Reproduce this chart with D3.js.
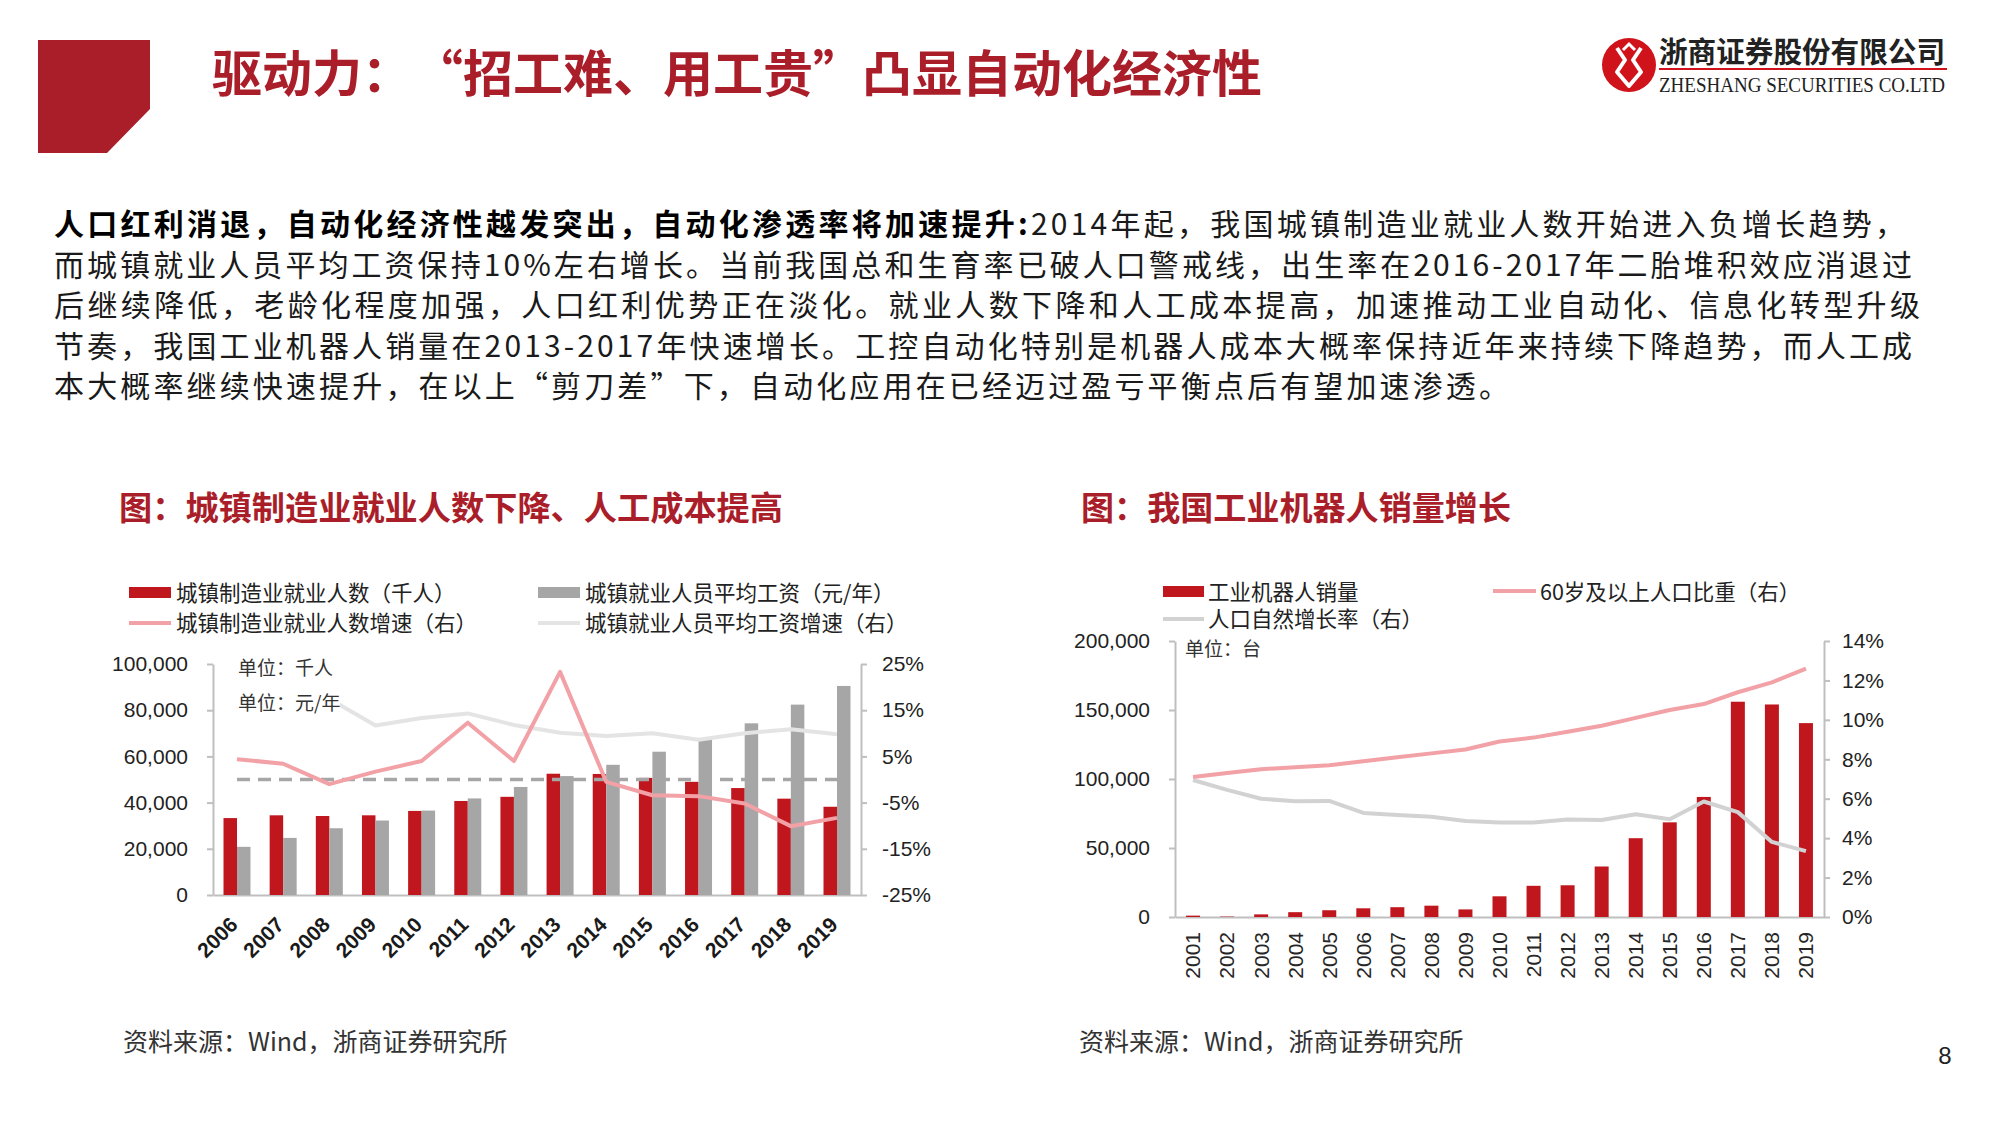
<!DOCTYPE html>
<html>
<head>
<meta charset="utf-8">
<script src="https://cdn.jsdelivr.net/npm/d3@7"></script>
<style>
  body { margin: 0; background: #fff; }
  svg { display: block; }
  text { font-family: "Noto Sans CJK SC", "Noto Sans", sans-serif; }
  .num, .num text { font-family: "Liberation Sans", Arial, sans-serif; }
</style>
</head>
<body>
<div id="page"></div>
<script>
// ---- chart 1: manufacturing employment vs wages ----
var years1 = ["2006", "2007", "2008", "2009", "2010", "2011", "2012", "2013", "2014", "2015", "2016", "2017", "2018", "2019"];
var mfgEmployees = [33300, 34500, 34200, 34500, 36400, 40700, 42500, 52500, 52400, 50700, 49000, 46300, 41700, 38200];
var avgWage = [20856, 24721, 28898, 32244, 36539, 41799, 46769, 51483, 56360, 62029, 67569, 74318, 82413, 90501];
var mfgGrowth = [4.4, 3.4, -1.0, 1.7, 4.0, 12.3, 4.0, 23.3, -0.5, -3.4, -3.6, -5.2, -10.1, -8.3];
var wageGrowth = [14.5, 18.3, 17.5, 11.7, 13.3, 14.3, 11.8, 10.1, 9.4, 10.0, 8.6, 10.0, 10.9, 9.8];
var leftTicks1 = [0, 20000, 40000, 60000, 80000, 100000];
var rightTicks1 = [-25, -15, -5, 5, 15, 25];

// ---- chart 2: industrial robot sales ----
var years2 = ["2001", "2002", "2003", "2004", "2005", "2006", "2007", "2008", "2009", "2010", "2011", "2012", "2013", "2014", "2015", "2016", "2017", "2018", "2019"];
var robotSales = [1000, 300, 1900, 3500, 4900, 6300, 7100, 8200, 5500, 15000, 22600, 23000, 36600, 57100, 68600, 87000, 156000, 154000, 140500];
var agedShare = [7.1, 7.3, 7.5, 7.6, 7.7, 7.9, 8.1, 8.3, 8.5, 8.9, 9.1, 9.4, 9.7, 10.1, 10.5, 10.8, 11.4, 11.9, 12.6];
var naturalGrowth = [6.95, 6.45, 6.0, 5.87, 5.89, 5.28, 5.17, 5.08, 4.87, 4.79, 4.79, 4.95, 4.92, 5.21, 4.96, 5.86, 5.32, 3.81, 3.34];
var leftTicks2 = [0, 50000, 100000, 150000, 200000];
var rightTicks2 = [0, 2, 4, 6, 8, 10, 12, 14];

// ---- texts ----
var titleParts = ["驱动力：", "“招工难、用工贵”", "凸显自动化经济性"];
var bodyLines = [
  ["人口红利消退，自动化经济性越发突出，自动化渗透率将加速提升:", "2014年起，我国城镇制造业就业人数开始进入负增长趋势，"],
  ["", "而城镇就业人员平均工资保持10%左右增长。当前我国总和生育率已破人口警戒线，出生率在2016-2017年二胎堆积效应消退过"],
  ["", "后继续降低，老龄化程度加强，人口红利优势正在淡化。就业人数下降和人工成本提高，加速推动工业自动化、信息化转型升级"],
  ["", "节奏，我国工业机器人销量在2013-2017年快速增长。工控自动化特别是机器人成本大概率保持近年来持续下降趋势，而人工成"],
  ["", "本大概率继续快速提升，在以上“剪刀差”下，自动化应用在已经迈过盈亏平衡点后有望加速渗透。"]
];
var bodyWidths = [1851, 1858, 1866, 1858, 1455];
var legend1 = ["城镇制造业就业人数（千人）", "城镇就业人员平均工资（元/年）", "城镇制造业就业人数增速（右）", "城镇就业人员平均工资增速（右）"];
var legend2 = ["工业机器人销量", "60岁及以上人口比重（右）", "人口自然增长率（右）"];

var RED = "#aa1e2a", BAR_RED = "#c0171f", BAR_GRAY = "#a6a6a6", PINK = "#f2a1a6",
    LIGHT1 = "#e4e4e4", LIGHT2 = "#d2d2d2", AXIS = "#bfbfbf", INK = "#222";

var svg = d3.select("#page").append("svg")
    .attr("width", 2000)
    .attr("height", 1125);

// header block + title
svg.append("path")
    .attr("d", "M38,40 L150,40 L150,109 L107,153 L38,153 Z")
    .attr("fill", RED);

var titleText = svg.append("text")
    .attr("y", 92)
    .attr("font-size", 50).attr("font-weight", 700)
    .attr("fill", RED);
[212, 413, 862].forEach(function(x, i) {
    titleText.append("tspan").attr("x", x).text(titleParts[i]);
});

// logo
var logo = svg.append("g");
logo.append("circle").attr("cx", 1629).attr("cy", 65).attr("r", 27).attr("fill", "#d0121b");
logo.append("path")
    .attr("d", "M1617,48 L1625,60 L1617,72 L1629,86 L1641,72 L1633,60 L1641,48")
    .attr("fill", "none").attr("stroke", "#fff").attr("stroke-width", 4).attr("stroke-linejoin", "round");
logo.append("path")
    .attr("d", "M1623,50 L1629,44 L1635,50")
    .attr("fill", "none").attr("stroke", "#fff").attr("stroke-width", 3);
logo.append("text")
    .attr("x", 1659).attr("y", 63)
    .attr("font-size", 29).attr("font-weight", 700).attr("fill", "#222")
    .attr("textLength", 286).attr("lengthAdjust", "spacingAndGlyphs")
    .text("浙商证券股份有限公司");
logo.append("line")
    .attr("x1", 1659).attr("x2", 1947).attr("y1", 69).attr("y2", 69)
    .attr("stroke", "#d0121b").attr("stroke-width", 2);
logo.append("text")
    .attr("x", 1659).attr("y", 92)
    .style("font-family", "'Liberation Serif', serif")
    .attr("font-size", 22).attr("fill", "#222")
    .attr("textLength", 286).attr("lengthAdjust", "spacingAndGlyphs")
    .text("ZHESHANG SECURITIES CO.LTD");

// body paragraph
var lineY = [235, 275.5, 316, 356.5, 397];
bodyLines.forEach(function(parts, i) {
    var t = svg.append("text")
        .attr("x", 54).attr("y", lineY[i])
        .attr("font-size", 30).attr("fill", "#1a1a1a")
        .attr("textLength", bodyWidths[i]).attr("lengthAdjust", "spacing");
    if (parts[0]) t.append("tspan").attr("font-weight", 700).attr("fill", "#000").text(parts[0]);
    t.append("tspan").text(parts[1]);
});

// section titles
svg.append("text").attr("x", 119).attr("y", 520)
    .attr("font-size", 33).attr("font-weight", 700).attr("fill", RED)
    .attr("textLength", 664).attr("lengthAdjust", "spacingAndGlyphs")
    .text("图：城镇制造业就业人数下降、人工成本提高");
svg.append("text").attr("x", 1081).attr("y", 520)
    .attr("font-size", 33).attr("font-weight", 700).attr("fill", RED)
    .attr("textLength", 430).attr("lengthAdjust", "spacingAndGlyphs")
    .text("图：我国工业机器人销量增长");

function styleAxis(g) {
    g.classed("num", true);
    g.select(".domain").attr("stroke", AXIS).attr("stroke-width", 2);
    g.selectAll(".tick line").attr("stroke", AXIS).attr("stroke-width", 2);
    g.selectAll(".tick text").attr("fill", INK).attr("font-size", 21);
}

// ================= chart 1 =================
var c1 = svg.append("g");
var x1 = d3.scaleBand().domain(years1).range([213, 861]).paddingInner(0).paddingOuter(0.02);
var yL1 = d3.scaleLinear().domain([0, 100000]).range([895, 664]);
var yR1 = d3.scaleLinear().domain([-25, 25]).range([895, 664]);
var bw1 = 13.5;
var cx1 = function(d) { return x1(d) + x1.bandwidth() / 2; };

c1.append("g").attr("transform", "translate(213,0)")
    .call(d3.axisLeft(yL1).tickValues(leftTicks1).tickSize(6).tickSizeOuter(0).tickPadding(19).tickFormat(d3.format(",")))
    .call(styleAxis);
c1.append("g").attr("transform", "translate(861,0)")
    .call(d3.axisRight(yR1).tickValues(rightTicks1).tickSize(6).tickSizeOuter(0).tickPadding(15).tickFormat(function(d) { return d + "%"; }))
    .call(styleAxis);
c1.append("g").attr("transform", "translate(0,895)")
    .call(d3.axisBottom(x1).tickSize(0).tickSizeOuter(0).tickFormat(""))
    .call(styleAxis);

c1.selectAll("rect.emp").data(years1).enter().append("rect")
    .attr("x", function(d) { return cx1(d) - bw1; })
    .attr("width", bw1)
    .attr("y", function(d, i) { return yL1(mfgEmployees[i]); })
    .attr("height", function(d, i) { return yL1(0) - yL1(mfgEmployees[i]); })
    .attr("fill", BAR_RED);
c1.selectAll("rect.wage").data(years1).enter().append("rect")
    .attr("x", function(d) { return cx1(d); })
    .attr("width", bw1)
    .attr("y", function(d, i) { return yL1(avgWage[i]); })
    .attr("height", function(d, i) { return yL1(0) - yL1(avgWage[i]); })
    .attr("fill", BAR_GRAY);

c1.append("line")
    .attr("x1", cx1(years1[0])).attr("x2", cx1(years1[years1.length - 1]))
    .attr("y1", yR1(0)).attr("y2", yR1(0))
    .attr("stroke", BAR_GRAY).attr("stroke-width", 3.5).attr("stroke-dasharray", "13,8");

var line1 = d3.line().x(function(d) { return cx1(d[0]); }).y(function(d) { return yR1(d[1]); });
c1.append("path").datum(d3.zip(years1, wageGrowth)).attr("d", line1)
    .attr("fill", "none").attr("stroke", LIGHT1).attr("stroke-width", 4).attr("stroke-linejoin", "round");
c1.append("path").datum(d3.zip(years1, mfgGrowth)).attr("d", line1)
    .attr("fill", "none").attr("stroke", PINK).attr("stroke-width", 4).attr("stroke-linejoin", "round");

// unit notes
c1.append("rect").attr("x", 236).attr("y", 689).attr("width", 104).attr("height", 28).attr("fill", "#fff");
c1.append("text").attr("x", 238).attr("y", 675).attr("font-size", 19).attr("fill", "#333").text("单位：千人");
c1.append("text").attr("x", 238).attr("y", 710).attr("font-size", 19).attr("fill", "#333").text("单位：元/年");

c1.selectAll("text.xl").data(years1).enter().append("text")
    .attr("class", "num")
    .attr("transform", function(d) { return "translate(" + (cx1(d) + 2) + ",926) rotate(-45)"; })
    .attr("text-anchor", "end")
    .attr("font-size", 21).attr("font-weight", 700).attr("fill", "#1a1a1a")
    .text(function(d) { return d; });

// legend 1
var lg1 = c1.append("g");
lg1.append("rect").attr("x", 129).attr("y", 587).attr("width", 42).attr("height", 11).attr("fill", BAR_RED);
lg1.append("rect").attr("x", 538).attr("y", 587).attr("width", 42).attr("height", 11).attr("fill", BAR_GRAY);
lg1.append("line").attr("x1", 129).attr("x2", 171).attr("y1", 623).attr("y2", 623).attr("stroke", PINK).attr("stroke-width", 4);
lg1.append("line").attr("x1", 538).attr("x2", 580).attr("y1", 623).attr("y2", 623).attr("stroke", LIGHT1).attr("stroke-width", 4);
[[176, 600.5], [585, 600.5], [176, 631], [585, 631]].forEach(function(p, i) {
    lg1.append("text").attr("x", p[0]).attr("y", p[1]).attr("font-size", 21.5).attr("fill", INK).text(legend1[i]);
});

// ================= chart 2 =================
var c2 = svg.append("g");
var x2 = d3.scaleBand().domain(years2).range([1175, 1824]).paddingInner(0).paddingOuter(0.03);
var yL2 = d3.scaleLinear().domain([0, 200000]).range([917, 641]);
var yR2 = d3.scaleLinear().domain([0, 14]).range([917, 641]);
var bw2 = 14;
var cx2 = function(d) { return x2(d) + x2.bandwidth() / 2; };

c2.append("g").attr("transform", "translate(1175,0)")
    .call(d3.axisLeft(yL2).tickValues(leftTicks2).tickSize(6).tickSizeOuter(0).tickPadding(19).tickFormat(d3.format(",")))
    .call(styleAxis);
c2.append("g").attr("transform", "translate(1824,0)")
    .call(d3.axisRight(yR2).tickValues(rightTicks2).tickSize(6).tickSizeOuter(0).tickPadding(12).tickFormat(function(d) { return d + "%"; }))
    .call(styleAxis);
c2.append("g").attr("transform", "translate(0,917)")
    .call(d3.axisBottom(x2).tickSize(0).tickSizeOuter(0).tickFormat(""))
    .call(styleAxis);

c2.selectAll("rect.robot").data(years2).enter().append("rect")
    .attr("x", function(d) { return cx2(d) - bw2 / 2; })
    .attr("width", bw2)
    .attr("y", function(d, i) { return yL2(robotSales[i]); })
    .attr("height", function(d, i) { return yL2(0) - yL2(robotSales[i]); })
    .attr("fill", BAR_RED);

var line2 = d3.line().x(function(d) { return cx2(d[0]); }).y(function(d) { return yR2(d[1]); });
c2.append("path").datum(d3.zip(years2, naturalGrowth)).attr("d", line2)
    .attr("fill", "none").attr("stroke", LIGHT2).attr("stroke-width", 4).attr("stroke-linejoin", "round");
c2.append("path").datum(d3.zip(years2, agedShare)).attr("d", line2)
    .attr("fill", "none").attr("stroke", PINK).attr("stroke-width", 4).attr("stroke-linejoin", "round");

c2.append("text").attr("x", 1185).attr("y", 656).attr("font-size", 19).attr("fill", "#333").text("单位：台");

c2.selectAll("text.xl").data(years2).enter().append("text")
    .attr("class", "num")
    .attr("transform", function(d) { return "translate(" + cx2(d) + ",932) rotate(-90)"; })
    .attr("text-anchor", "end").attr("dy", "0.35em")
    .attr("font-size", 21).attr("fill", "#262626")
    .text(function(d) { return d; });

var lg2 = c2.append("g");
lg2.append("rect").attr("x", 1163).attr("y", 586).attr("width", 41).attr("height", 11).attr("fill", BAR_RED);
lg2.append("line").attr("x1", 1493).attr("x2", 1536).attr("y1", 591).attr("y2", 591).attr("stroke", PINK).attr("stroke-width", 4);
lg2.append("line").attr("x1", 1163).attr("x2", 1204).attr("y1", 619).attr("y2", 619).attr("stroke", LIGHT2).attr("stroke-width", 4);
[[1208, 600], [1540, 600], [1208, 627]].forEach(function(p, i) {
    lg2.append("text").attr("x", p[0]).attr("y", p[1]).attr("font-size", 21.5).attr("fill", INK).text(legend2[i]);
});

// sources + page number
svg.append("text").attr("x", 123).attr("y", 1051).attr("font-size", 25).attr("fill", "#333").text("资料来源：Wind，浙商证券研究所");
svg.append("text").attr("x", 1079).attr("y", 1051).attr("font-size", 25).attr("fill", "#333").text("资料来源：Wind，浙商证券研究所");
svg.append("text").attr("class", "num").attr("x", 1945).attr("y", 1064).attr("text-anchor", "middle")
    .attr("font-size", 24).attr("fill", "#222").text("8");
</script>
</body>
</html>
